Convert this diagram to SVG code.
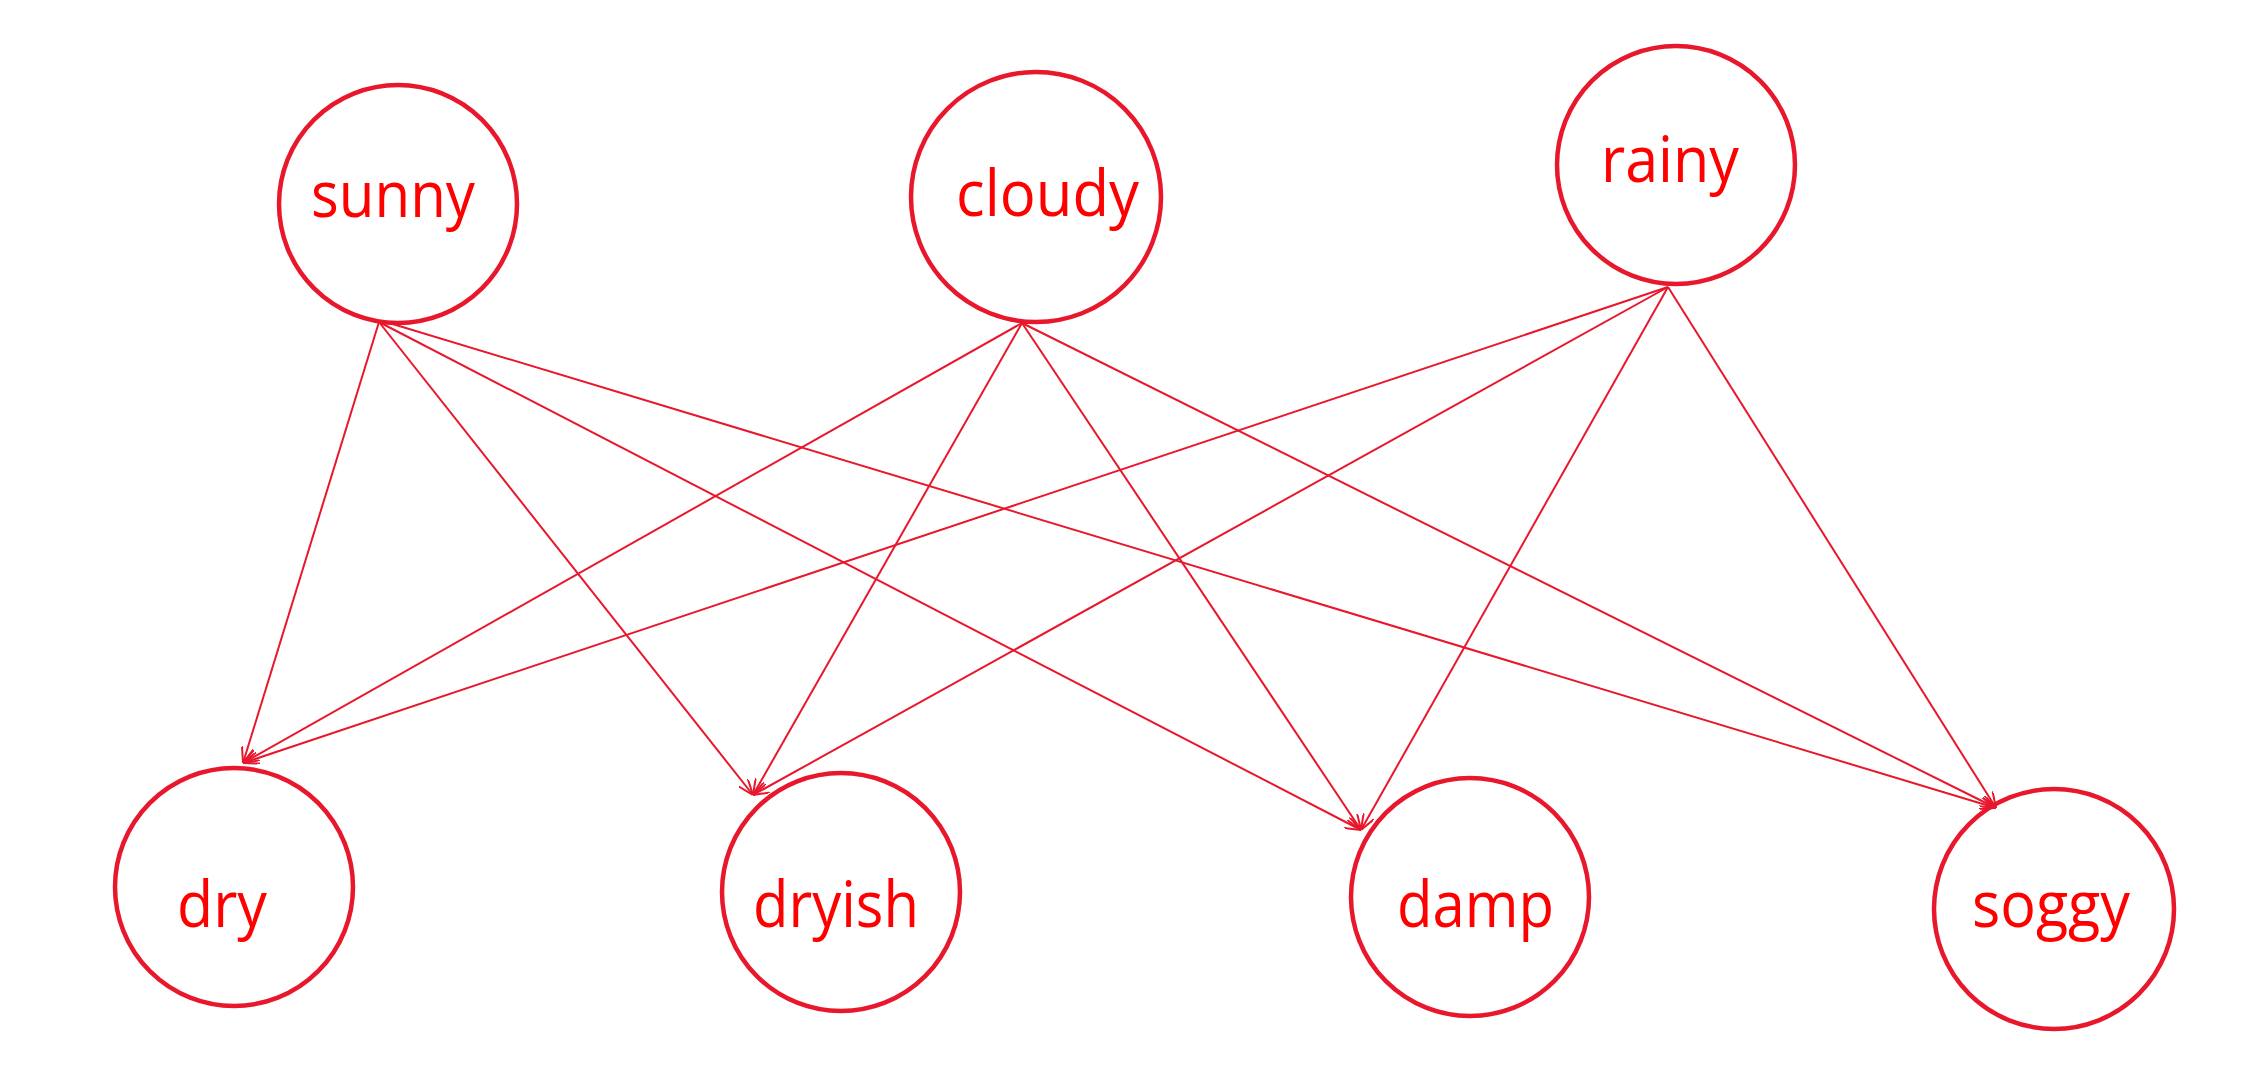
<svg xmlns="http://www.w3.org/2000/svg" width="2260" height="1070" viewBox="0 0 2260 1070">
<defs>
<marker id="arr" viewBox="0 0 16 12" refX="16" refY="6" markerWidth="16" markerHeight="12" markerUnits="userSpaceOnUse" orient="auto">
<path d="M0,0 L16,6 L0,12" fill="none" stroke="#e8172c" stroke-width="2"/>
</marker>
<style>
.node circle{fill:#fff;stroke:#e8172c;stroke-width:4.5}
.node text{font-family:"Open Sans","Noto Sans",sans-serif;font-size:64px;fill:#ff0000}
.edges line{stroke:#e8172c;stroke-width:2;marker-end:url(#arr)}
</style>
</defs>
<rect width="2260" height="1070" fill="#fff"/>
<g id="nodes">
<g id="sunny" class="node"><circle cx="398" cy="204" r="119"/><text x="311" y="217" textLength="164" lengthAdjust="spacingAndGlyphs">sunny</text></g>
<g id="cloudy" class="node"><circle cx="1036" cy="197" r="125"/><text x="956" y="216" textLength="183" lengthAdjust="spacingAndGlyphs">cloudy</text></g>
<g id="rainy" class="node"><circle cx="1676" cy="165" r="119"/><text x="1601" y="182" textLength="138" lengthAdjust="spacingAndGlyphs">rainy</text></g>
<g id="dry" class="node"><circle cx="234" cy="887" r="119"/><text x="177" y="927" textLength="90" lengthAdjust="spacingAndGlyphs">dry</text></g>
<g id="dryish" class="node"><circle cx="841" cy="892" r="119"/><text x="753" y="927" textLength="166" lengthAdjust="spacingAndGlyphs">dryish</text></g>
<g id="damp" class="node"><circle cx="1470" cy="897" r="119"/><text x="1397" y="927" textLength="157" lengthAdjust="spacingAndGlyphs">damp</text></g>
<g id="soggy" class="node"><circle cx="2054" cy="909" r="120"/><text x="1972" y="927" textLength="158" lengthAdjust="spacingAndGlyphs">soggy</text></g>
</g>
<g id="connectors" class="edges">
<line x1="379" y1="322" x2="243" y2="763"/>
<line x1="379" y1="322" x2="753" y2="795"/>
<line x1="379" y1="322" x2="1361" y2="830"/>
<line x1="386" y1="322" x2="1996" y2="808"/>
<line x1="1022" y1="323" x2="243" y2="763"/>
<line x1="1022" y1="323" x2="753" y2="795"/>
<line x1="1022" y1="323" x2="1361" y2="830"/>
<line x1="1022" y1="323" x2="1996" y2="808"/>
<line x1="1668" y1="287" x2="243" y2="763"/>
<line x1="1668" y1="287" x2="753" y2="795"/>
<line x1="1668" y1="287" x2="1361" y2="830"/>
<line x1="1668" y1="287" x2="1996" y2="808"/>
</g>
</svg>
